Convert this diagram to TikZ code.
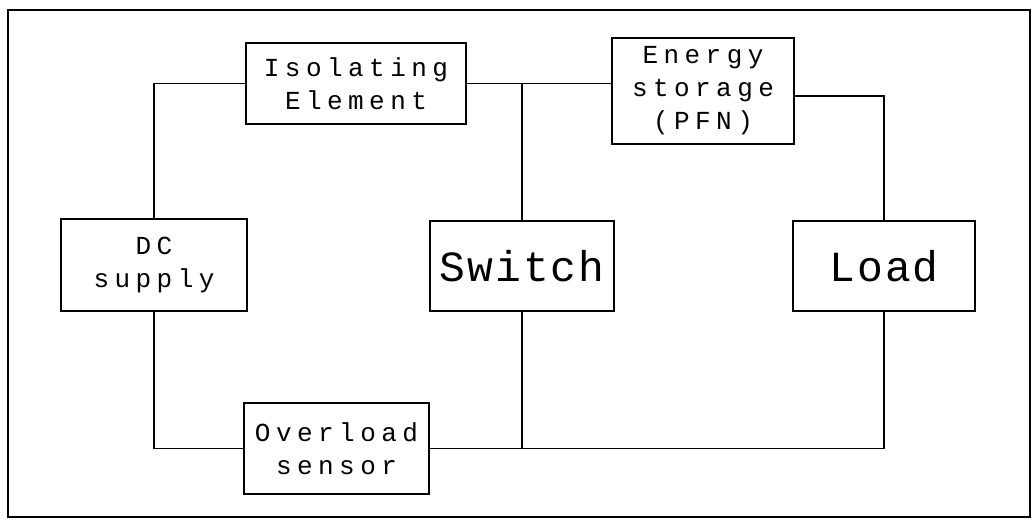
\documentclass[tikz,border=0pt]{standalone}
\usepackage{fontspec}
\usepackage{tikz}
\usetikzlibrary{positioning,calc}
\newfontfamily\plotfont[LetterSpace=21]{Liberation Mono}
\newfontfamily\plotbig[LetterSpace=5]{Liberation Mono}

\begin{document}
\begin{tikzpicture}[x=1pt,y=-1pt,
    block/.style={draw, line width=1.7pt, inner sep=0pt, align=center,
        font=\plotfont\fontsize{26}{33}\selectfont},
    bigblock/.style={block, font=\plotbig\fontsize{43}{45}\selectfont},
    wire/.style={line width=1.4pt}]
                    \useasboundingbox (0,0) rectangle (1033,520);
                    \draw[line width=2.2pt] (8,10) rectangle (1030,517);
                    % blocks
                    \node[block, minimum width=220pt, minimum height=81pt] (iso) at (356,83.5) {Isolating\\Element};
                    \node[block, minimum width=182pt, minimum height=106pt] (pfn) at (703,91) {Energy\\storage\\(PFN)};
                    \node[block, minimum width=186pt, minimum height=92pt] (dc) at (154,265) {DC\\supply};
                    \node[bigblock, minimum width=184pt, minimum height=90pt] (sw) at (522,266) {Switch};
                    \node[bigblock, minimum width=182pt, minimum height=90pt] (load) at (884,266) {Load};
                    \node[block, minimum width=185pt, minimum height=91pt] (ovl) at (336.5,448.5) {Overload\\sensor};
                    % wires
                    \draw[wire] (dc.north) |- (iso.west);
                    \draw[wire] (iso.east) -- (iso.east -| pfn.west);
                    \draw[wire] (sw.north) -- (sw.north |- iso.east);
                    \draw[wire] ([yshift=-5pt]pfn.east) -| (load.north);
                    \draw[wire] (dc.south) |- (ovl.west);
                    \draw[wire] (ovl.east) -| (load.south);
                    \draw[wire] (sw.south) -- (sw.south |- ovl.east);
                \end{tikzpicture}
\end{document}
